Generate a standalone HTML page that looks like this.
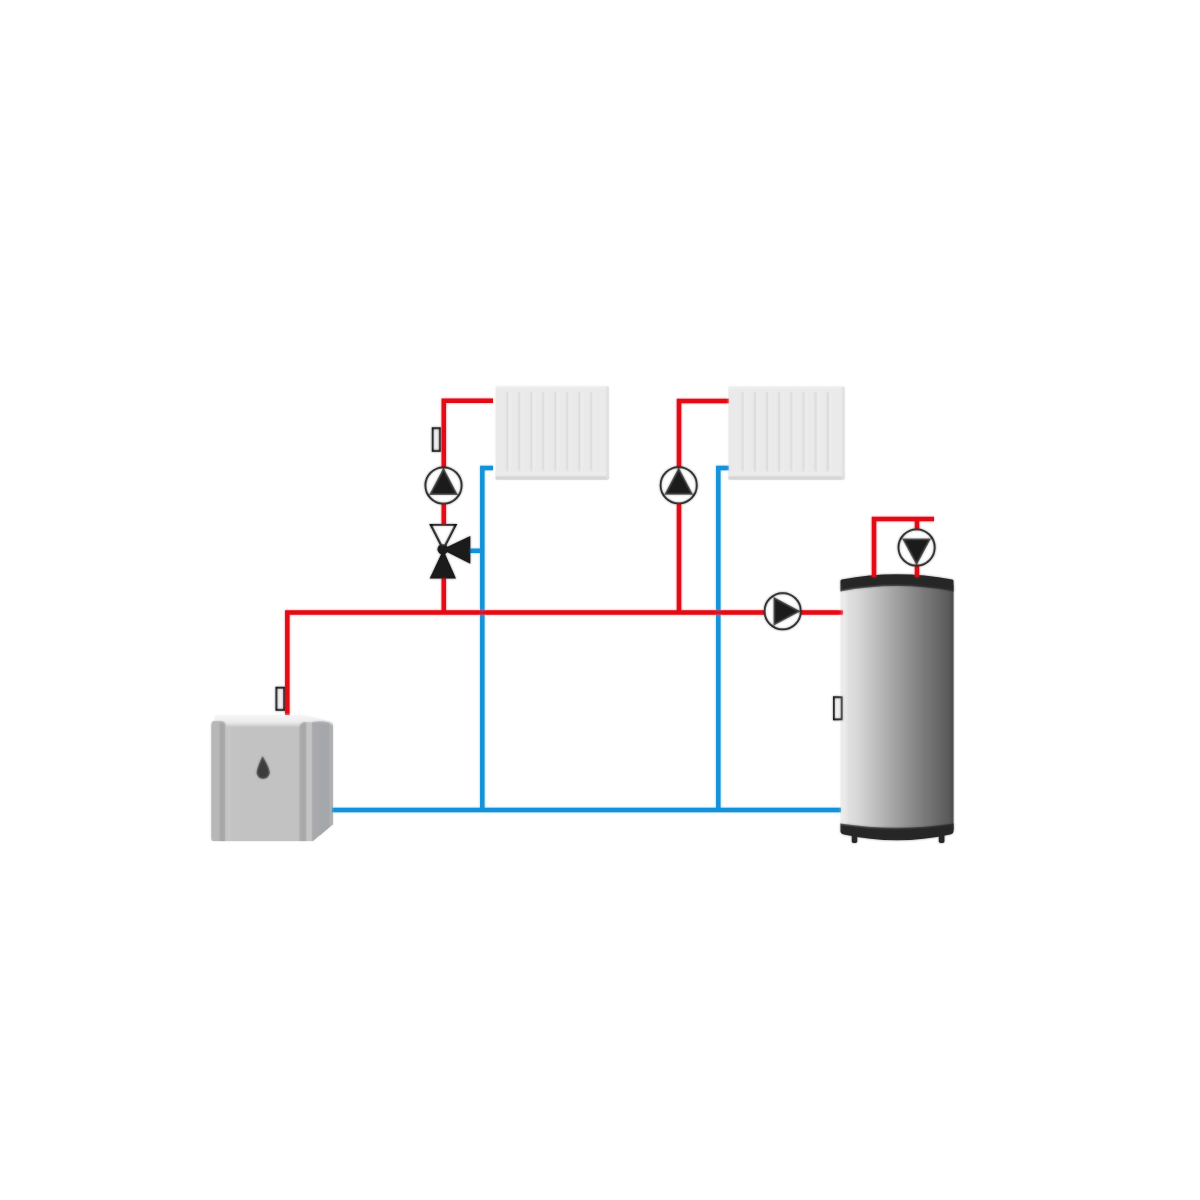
<!DOCTYPE html>
<html><head><meta charset="utf-8"><title>Heating diagram</title>
<style>
html,body{margin:0;padding:0;background:#fff;width:1200px;height:1200px;overflow:hidden;font-family:"Liberation Sans",sans-serif;}
svg{display:block;position:absolute;left:0;top:0;}
#wrap{position:absolute;left:0;top:0;width:1200px;height:1200px;}
</style></head><body><div id="wrap">
<svg width="1200" height="1200" viewBox="0 0 1200 1200">
<defs>
  <filter id="soft" x="-1%" y="-1%" width="102%" height="102%"><feGaussianBlur stdDeviation="0.85"/></filter>
  <linearGradient id="tankG" x1="0" x2="1" y1="0" y2="0">
    <stop offset="0" stop-color="#ececec"/>
    <stop offset="0.04" stop-color="#eaeaea"/>
    <stop offset="0.07" stop-color="#e0e0e0"/>
    <stop offset="0.15" stop-color="#d8d8d8"/>
    <stop offset="0.3" stop-color="#c0c0c0"/>
    <stop offset="0.5" stop-color="#a0a0a0"/>
    <stop offset="0.7" stop-color="#808080"/>
    <stop offset="0.88" stop-color="#666666"/>
    <stop offset="0.96" stop-color="#5a5a5a"/>
    <stop offset="1" stop-color="#4a4a4a"/>
  </linearGradient>
  <linearGradient id="boilTop" x1="0" x2="0" y1="0" y2="1">
    <stop offset="0" stop-color="#f7f7f7"/>
    <stop offset="0.6" stop-color="#ececec"/>
    <stop offset="1" stop-color="#d0d0d0"/>
  </linearGradient>
  <linearGradient id="radBot" x1="0" x2="0" y1="0" y2="1">
    <stop offset="0" stop-color="#dcdcdc"/>
    <stop offset="1" stop-color="#cfcfcf"/>
  </linearGradient>
  <linearGradient id="radRight" x1="0" x2="1" y1="0" y2="0">
    <stop offset="0" stop-color="#e9e9e9"/>
    <stop offset="1" stop-color="#d6d6d6"/>
  </linearGradient>
</defs>
<g id="all">

<!-- Radiators -->
<g id="rad1">
  <rect x="495.6" y="386.3" width="112.9" height="93.2" rx="1.2" fill="#eaeaea"/>
  <rect x="495.6" y="386.3" width="112.9" height="2" rx="1" fill="#f0f0f0"/>
  <rect x="495.6" y="472.0" width="112.9" height="4" fill="#ececec"/>
  <rect x="495.6" y="476.0" width="112.9" height="3.5" rx="1.2" fill="url(#radBot)"/>
  <rect x="606.0" y="386.8" width="2.5" height="92.2" fill="url(#radRight)"/>
  <rect x="506.40" y="392.1" width="2" height="79" fill="#d9d9d9"/>
  <rect x="508.40" y="392.1" width="3" height="79" fill="#ededed"/>
  <rect x="518.40" y="392.1" width="2" height="79" fill="#d9d9d9"/>
  <rect x="520.40" y="392.1" width="3" height="79" fill="#ededed"/>
  <rect x="530.40" y="392.1" width="2" height="79" fill="#d9d9d9"/>
  <rect x="532.40" y="392.1" width="3" height="79" fill="#ededed"/>
  <rect x="542.40" y="392.1" width="2" height="79" fill="#d9d9d9"/>
  <rect x="544.40" y="392.1" width="3" height="79" fill="#ededed"/>
  <rect x="554.40" y="392.1" width="2" height="79" fill="#d9d9d9"/>
  <rect x="556.40" y="392.1" width="3" height="79" fill="#ededed"/>
  <rect x="566.40" y="392.1" width="2" height="79" fill="#d9d9d9"/>
  <rect x="568.40" y="392.1" width="3" height="79" fill="#ededed"/>
  <rect x="578.40" y="392.1" width="2" height="79" fill="#d9d9d9"/>
  <rect x="580.40" y="392.1" width="3" height="79" fill="#ededed"/>
  <rect x="590.40" y="392.1" width="2" height="79" fill="#d9d9d9"/>
  <rect x="592.40" y="392.1" width="3" height="79" fill="#ededed"/>
</g>
<g id="rad2">
  <rect x="728.5" y="386.5" width="115.8" height="93" rx="1.2" fill="#eaeaea"/>
  <rect x="728.5" y="386.5" width="115.8" height="2" rx="1" fill="#f0f0f0"/>
  <rect x="728.5" y="472.0" width="115.8" height="4" fill="#ececec"/>
  <rect x="728.5" y="476.0" width="115.8" height="3.5" rx="1.2" fill="url(#radBot)"/>
  <rect x="841.8" y="387.0" width="2.5" height="92" fill="url(#radRight)"/>
  <rect x="741.80" y="392.3" width="2" height="79" fill="#d9d9d9"/>
  <rect x="743.80" y="392.3" width="3" height="79" fill="#ededed"/>
  <rect x="753.96" y="392.3" width="2" height="79" fill="#d9d9d9"/>
  <rect x="755.96" y="392.3" width="3" height="79" fill="#ededed"/>
  <rect x="766.12" y="392.3" width="2" height="79" fill="#d9d9d9"/>
  <rect x="768.12" y="392.3" width="3" height="79" fill="#ededed"/>
  <rect x="778.28" y="392.3" width="2" height="79" fill="#d9d9d9"/>
  <rect x="780.28" y="392.3" width="3" height="79" fill="#ededed"/>
  <rect x="790.44" y="392.3" width="2" height="79" fill="#d9d9d9"/>
  <rect x="792.44" y="392.3" width="3" height="79" fill="#ededed"/>
  <rect x="802.60" y="392.3" width="2" height="79" fill="#d9d9d9"/>
  <rect x="804.60" y="392.3" width="3" height="79" fill="#ededed"/>
  <rect x="814.76" y="392.3" width="2" height="79" fill="#d9d9d9"/>
  <rect x="816.76" y="392.3" width="3" height="79" fill="#ededed"/>
  <rect x="826.92" y="392.3" width="2" height="79" fill="#d9d9d9"/>
  <rect x="828.92" y="392.3" width="3" height="79" fill="#ededed"/>
</g>

<!-- Boiler -->
<g id="boiler">
  <!-- front face -->
  <path d="M211.5 725 Q211.5 721 215 721 H304 L312 722 H331 Q333 723 333 727 V824 L312 841 H214 Q211.5 841 211.5 838 Z" fill="#c2c2c2"/>
  <!-- top face -->
  <path d="M216 715 H304 L331 721.5 Q333 723 333 725 L312 723 Q305 725 300 726.5 H224 Q220 722 215 721 Q214 717 216 715 Z" fill="url(#boilTop)"/>
  <!-- left strips -->
  <path d="M211.5 725 Q211.5 721 215.5 721 H221 Q225.3 721 225.3 725 V841 H213.5 Q211.5 841 211.5 839 Z" fill="#b7b7b7"/>
  <path d="M219.5 722 Q223 721.5 225.3 724 V841 H219.5 Z" fill="#a7a7a7"/>
  <rect x="225.3" y="726.5" width="6.7" height="114.5" fill="#c6c6c6"/>
  <!-- right strips -->
  <path d="M299.5 726.5 Q301 722 305 722 H312 V841 H299.5 Z" fill="#c5c5c5"/>
  <path d="M299.5 726.5 Q301 722 305 722 H306.2 V841 H299.5 Z" fill="#a8a8a8"/>
  <!-- side face -->
  <path d="M312 722 Q322 720.5 329 722.5 Q332.5 724 332.5 728 V824.5 L314 840 Q313 841 312 841 Z" fill="#a9a9ad"/>
  <path d="M320 724 H329.5 V827 L320 835 Z" fill="#a4a7aa"/>
  <rect x="329.5" y="725" width="3" height="100" fill="#b0b0b2"/>
  <path d="M262.5 756 Q257 767 256.5 773 A6.7 6.7 0 0 0 269.8 773 Q269.5 767 262.5 756 Z" fill="#3c3c3c"/>
</g>

<!-- Tank -->
<g id="tank">
  <rect x="840.5" y="585" width="113" height="245" fill="url(#tankG)"/>
  <path d="M840.5 581 Q840.5 580 842 579.6 Q897 569 952 579.6 Q953.5 580 953.5 581 V591.5 Q897 580.5 840.5 591.5 Z" fill="#282828"/>
  <path d="M840.5 823.5 Q897 832 953.5 823.5 V831 Q953.5 833.5 950 834.5 Q897 846 844 834.5 Q840.5 833.5 840.5 831 Z" fill="#282828"/>
  <rect x="851.8" y="834" width="5.4" height="9" rx="1.8" fill="#282828"/>
  <rect x="938.8" y="834" width="5.6" height="9" rx="1.8" fill="#282828"/>
</g>

<!-- Blue pipes -->
<g fill="none" stroke="#1592d8" stroke-width="4.5" stroke-linecap="butt" stroke-linejoin="miter">
  <path d="M332 810 H841"/>
  <path d="M482.3 810 V468 H493"/>
  <path d="M718.3 810 V468 H728.8"/>
  <path d="M469 550.8 H482.3"/>
</g>

<!-- Red pipes -->
<g fill="none" stroke="#e30a17" stroke-width="4.5" stroke-linecap="butt" stroke-linejoin="miter">
  <path d="M287.3 715 V612.5 H843"/>
  <path d="M443.8 612.5 V577"/>
  <path d="M443.8 526 V400.8 H493"/>
  <path d="M679 612.5 V401 H728.8"/>
  <path d="M874 577 V519 H934"/>
  <path d="M917 519 V577"/>
</g>

<!-- Sensors -->
<g fill="#f0f0f3" stroke="#111" stroke-width="2">
  <rect x="432.8" y="428.3" width="7" height="22.5"/>
  <rect x="276.5" y="687.8" width="7.5" height="22"/>
  <rect x="834" y="697.3" width="7.7" height="22"/>
</g>

<!-- Pumps -->
<g stroke="#0f0f0f" stroke-width="2" fill="#fff">
  <circle cx="443.5" cy="485.5" r="18"/>
  <circle cx="678.7" cy="485.3" r="18"/>
  <circle cx="782.7" cy="611.3" r="18"/>
  <circle cx="916.6" cy="547.5" r="18"/>
</g>
<g fill="#1a1a1a">
  <path d="M443.5 467.5 L458 495 H429 Z"/>
  <path d="M678.7 467.3 L693.2 494.8 H664.2 Z"/>
  <path d="M800.7 611.3 L773.5 596.8 V625.8 Z"/>
  <path d="M916.6 565.5 L902 538.5 H931 Z"/>
</g>

<!-- Valve -->
<g>
  <path d="M431 525 H455.5 L443.2 549 Z" fill="#fff" stroke="#111" stroke-width="2.2" stroke-linejoin="miter"/>
  <path d="M443.2 549.7 L456 578.5 H429.7 Z" fill="#1a1a1a"/>
  <path d="M445 548 L470.3 536 V563.8 L445 551 Z" fill="#1a1a1a"/>
  <circle cx="442.8" cy="549.3" r="5.3" fill="#1a1a1a"/>
</g>
</g>
<use href="#all" filter="url(#soft)" opacity="0.5"/>
</svg></div>
</body></html>
